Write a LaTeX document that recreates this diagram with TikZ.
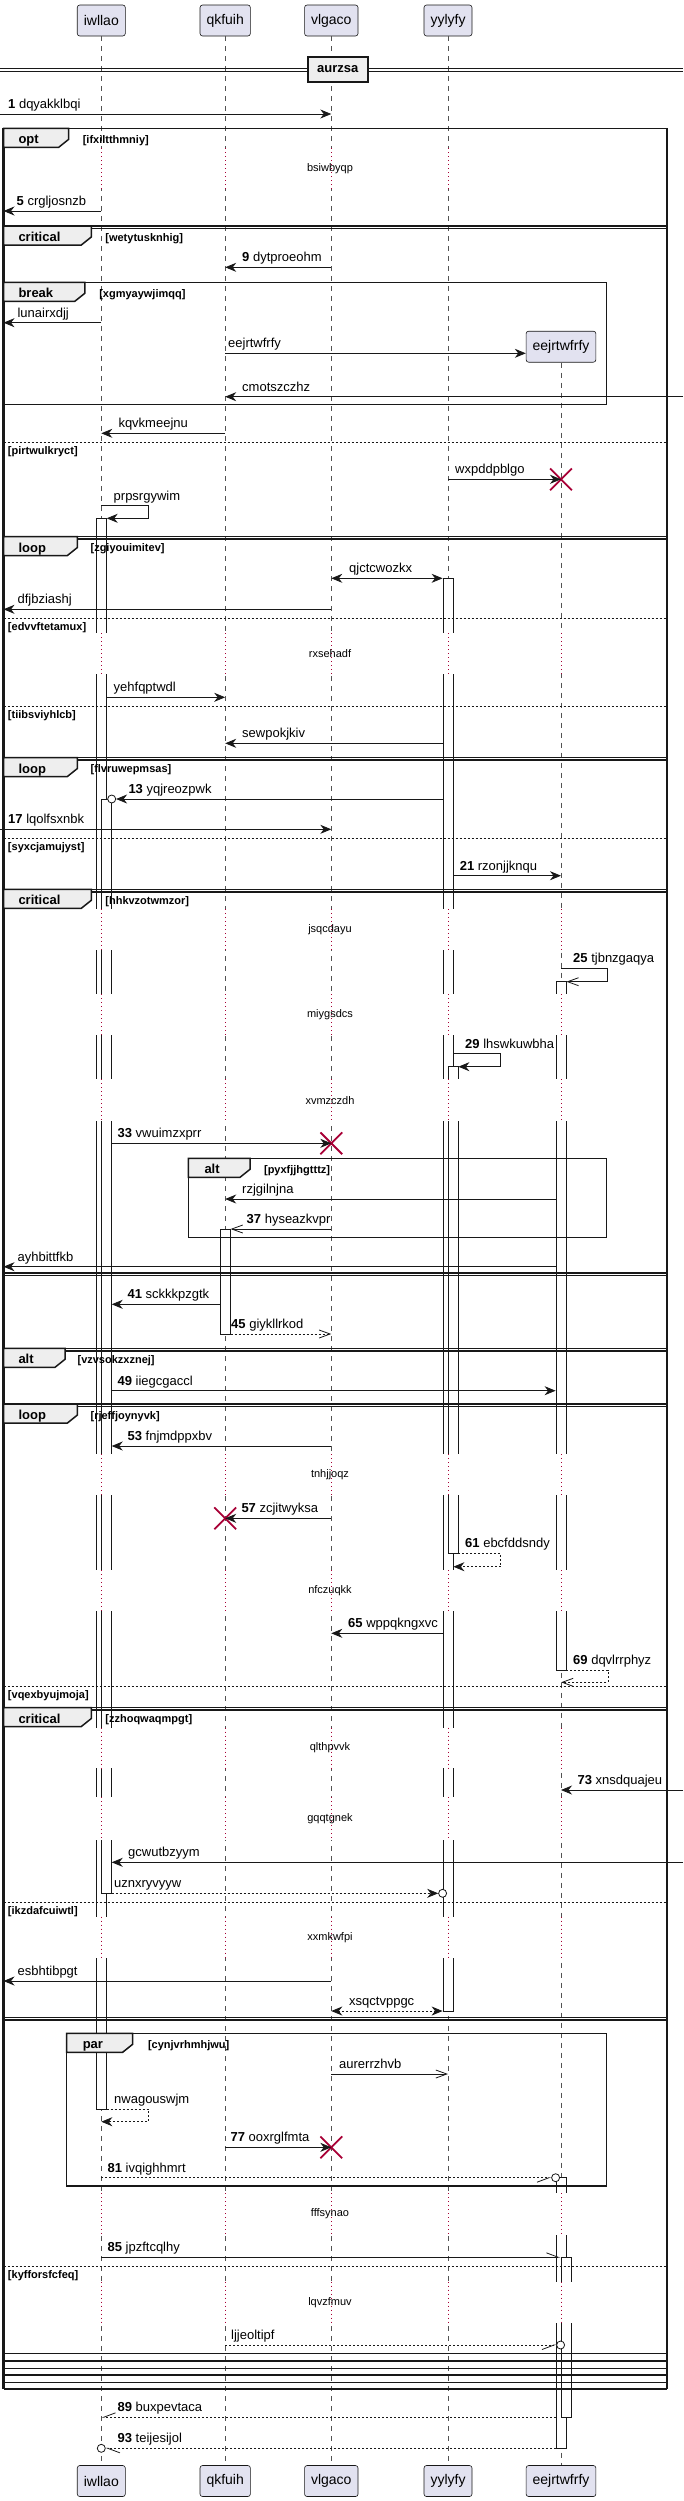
\documentclass[tikz,border=0pt]{standalone}
\usepackage{fontspec}
\setmainfont{Liberation Sans}
\usetikzlibrary{arrows.meta,fit,shapes.misc}

\definecolor{partfill}{HTML}{E2E2F0}
\definecolor{tabfill}{HTML}{EEEEEE}
\definecolor{umlline}{HTML}{181818}
\definecolor{crimson}{HTML}{A80036}

\begin{document}
\begin{tikzpicture}[
    x=1pt, y=-1pt,
    >={Stealth[length=11pt,width=9pt,inset=3.5pt]},
    part/.style={rectangle, rounded corners=2.5pt, draw=umlline, fill=partfill, line width=0.6pt, minimum height=31pt, inner xsep=6.5pt, font=\fontsize{14}{16}\selectfont},
    life/.style={draw=umlline!75, line width=0.6pt, dash pattern=on 5pt off 5pt},
    bar/.style={rectangle, draw=umlline, fill=white, line width=0.8pt, inner sep=0pt},
    delayline/.style={draw=crimson, line width=0.8pt, dash pattern=on 1pt off 3pt},
    delaytxt/.style={inner sep=0pt, font=\fontsize{11}{13}\selectfont},
    frameline/.style={draw=umlline, line width=1.5pt},
    sepline/.style={draw=umlline, line width=0.8pt, dash pattern=on 2pt off 2pt},
    tabbox/.style={draw=umlline, fill=tabfill, line width=1.5pt},
    tablbl/.style={anchor=base west, inner sep=0pt, font=\bfseries\fontsize{13}{15}\selectfont},
    guard/.style={anchor=base west, inner sep=0pt, font=\bfseries\fontsize{11}{13}\selectfont},
    divbox/.style={rectangle, draw=umlline, fill=tabfill, line width=2pt, minimum width=60pt, minimum height=24.5pt, font=\bfseries\fontsize{13}{15}\selectfont},
    lbl/.style={anchor=base west, inner sep=0pt, font=\fontsize{13}{15}\selectfont},
    msg/.style={draw=umlline, line width=0.8pt, ->},
    dmsg/.style={msg, dash pattern=on 2pt off 2pt},
    omsg/.style={draw=umlline, line width=0.8pt, -{Straight Barb[length=11pt,width=8pt]}},
    halfl/.style={draw=umlline, line width=0.8pt, -{Straight Barb[length=12pt,width=9pt,left]}},
    halfr/.style={draw=umlline, line width=0.8pt, -{Straight Barb[length=12pt,width=9pt,right]}},
    xmark/.style={cross out, draw=crimson, line width=1.8pt, minimum size=20pt, inner sep=0pt},
    ocirc/.style={circle, draw=umlline, fill=white, line width=0.8pt, minimum size=8pt, inner sep=0pt}
]
\useasboundingbox (0,0) rectangle (683,2501);

% Participants, top and bottom
\node[part] (iwllao) at (101.3,20.5) {iwllao};
\node[part] (qkfuih) at (225.2,20.5) {qkfuih};
\node[part] (vlgaco) at (331.3,20.5) {vlgaco};
\node[part] (yylyfy) at (448,20.5) {yylyfy};
\node[part] (eejrtwfrfy) at (561,346.7) {eejrtwfrfy};
\node[part] (iwllao2) at (101.3,2481) {iwllao};
\node[part] (qkfuih2) at (225.2,2481) {qkfuih};
\node[part] (vlgaco2) at (331.3,2481) {vlgaco};
\node[part] (yylyfy2) at (448,2481) {yylyfy};
\node[part] (eejrtwfrfy2) at (561,2481) {eejrtwfrfy};

% Border ends for lost and found messages
\coordinate (lzero) at (0,0);
\coordinate (ledge) at (3.5,0);
\coordinate (redge) at (683,0);

% Lifelines
\draw[life] (iwllao) -- (iwllao2);
\draw[life] (qkfuih) -- (qkfuih2);
\draw[life] (vlgaco) -- (vlgaco2);
\draw[life] (yylyfy) -- (yylyfy2);
\draw[life] (eejrtwfrfy) -- (eejrtwfrfy2);

% Activation bars
\node[bar, fit={(96.3,518.3) (106.3,2109.3)}] (iwA) {};
\node[bar, fit={(443,578.3) (453,2011)}] (yyA) {};
\node[bar, fit={(101.3,799) (111.3,1893.3)}] (iwB) {};
\node[bar, fit={(556,981.7) (566,1670)}] (eeA) {};
\node[bar, fit={(448,1066.7) (458,1553.3)}] (yyB) {};
\node[bar, fit={(220.2,1229) (230.2,1334)}] (qkA) {};
\node[bar, fit={(556,2177.7) (566,2448.3)}] (eeB) {};
\node[bar, fit={(561,2257.3) (571,2417.3)}] (eeC) {};

% Delays
\fill[white] (10,148) rectangle (660,189);
\foreach \p in {iwllao,qkfuih,vlgaco,yylyfy} \draw[delayline] (\p |- 0,148) -- (\p |- 0,189);
\node[delaytxt] (d1) at (330,168.5) {bsiwbyqp};
\foreach \ya/\yb/\txt [count=\i from 2] in {633/674/rxsehadf, 908.8/950/jsqcdayu, 994/1035/miygsdcs, 1079.3/1121/xvmzczdh, 1454.3/1495/tnhjjoqz, 1570/1610.7/nfczuqkk, 1727.5/1768.3/qlthpvvk, 1797.3/1840/gqqtgnek, 1916.7/1958.3/xxmkwfpi, 2193/2235/fffsynao, 2281.7/2323.3/lqvzfmuv} {
  \fill[white] (10,\ya) rectangle (660,\yb);
  \foreach \p in {iwllao,qkfuih,vlgaco,yylyfy,eejrtwfrfy} \draw[delayline] (\p |- 0,\ya) -- (\p |- 0,\yb);
  \node[delaytxt] (d\i) at (330,{(\ya+\yb)/2}) {\txt};
}

% Divider
\draw[umlline, line width=0.8pt] (0,68.3) -- (683,68.3) (0,71.3) -- (683,71.3);
\node[divbox] (aurzsa) at (337.8,69.5) {aurzsa};

% Outer group frames
\draw[frameline, line width=2.5pt] (3.5,128.3) -- (3.5,2389) (667,128.3) -- (667,2389);
\foreach \y in {128.3, 226, 228.5, 536.5, 539, 757.5, 760, 889.3, 891.8, 1273, 1275.5, 1348.3, 1350.8, 1404, 1406.5, 1707.5, 1710, 2017.5, 2020, 2353.3, 2361, 2368.3, 2375, 2382.3, 2389}
  \draw[frameline] (3.5,\y) -- (667,\y);

% Nested group frames
\draw[frameline] (3.5,282.3) rectangle (606.5,404.3);
\draw[frameline] (188.3,1158.3) rectangle (606.5,1237.3);
\draw[frameline] (66.5,2033.3) rectangle (606.5,2186);

% Tabs and guards
\draw[tabbox] (3.5,128.3) -- (68.7,128.3) -- (68.7,139.3) -- (58.7,147.3) -- (3.5,147.3) -- cycle;
\node[tablbl] (topt) at (18.3,143.8) {opt};
\node[guard] (gopt) at (82.6,143.3) {[ifxiltthmniy]};

\draw[tabbox] (3.5,226) -- (91.3,226) -- (91.3,237) -- (81.3,245) -- (3.5,245) -- cycle;
\node[tablbl] (tcrit1) at (18.3,241.5) {critical};
\node[guard] (gcrit1) at (105.2,241) {[wetytusknhig]};

\draw[tabbox] (3.5,282.3) -- (84.8,282.3) -- (84.8,293.3) -- (74.8,301.3) -- (3.5,301.3) -- cycle;
\node[tablbl] (tbreak) at (18.3,297.8) {break};
\node[guard] (gbreak) at (99.1,297.3) {[xgmyaywjimqq]};

\draw[tabbox] (3.5,536.5) -- (77.4,536.5) -- (77.4,547.5) -- (67.4,555.5) -- (3.5,555.5) -- cycle;
\node[tablbl] (tloop1) at (18.3,552) {loop};
\node[guard] (gloop1) at (90.4,551.5) {[zgiyouimitev]};

\draw[tabbox] (3.5,757.5) -- (77.4,757.5) -- (77.4,768.5) -- (67.4,776.5) -- (3.5,776.5) -- cycle;
\node[tablbl] (tloop2) at (18.3,773) {loop};
\node[guard] (gloop2) at (90.4,772.5) {[flvruwepmsas]};

\draw[tabbox] (3.5,889.3) -- (91.3,889.3) -- (91.3,900.3) -- (81.3,908.3) -- (3.5,908.3) -- cycle;
\node[tablbl] (tcrit2) at (18.3,904.8) {critical};
\node[guard] (gcrit2) at (105.2,904.3) {[hhkvzotwmzor]};

\draw[tabbox] (188.3,1158.3) -- (250,1158.3) -- (250,1169.3) -- (240,1177.3) -- (188.3,1177.3) -- cycle;
\node[tablbl] (talt1) at (204.3,1173.8) {alt};
\node[guard] (galt1) at (263.9,1173.3) {[pyxfjjhgtttz]};

\draw[tabbox] (3.5,1348.3) -- (65,1348.3) -- (65,1359.3) -- (55,1367.3) -- (3.5,1367.3) -- cycle;
\node[tablbl] (talt2) at (18.3,1363.8) {alt};
\node[guard] (galt2) at (77.4,1363.3) {[vzvsokzxznej]};

\draw[tabbox] (3.5,1404) -- (77.4,1404) -- (77.4,1415) -- (67.4,1423) -- (3.5,1423) -- cycle;
\node[tablbl] (tloop3) at (18.3,1419.5) {loop};
\node[guard] (gloop3) at (90.4,1419) {[rjeffjoynyvk]};

\draw[tabbox] (3.5,1707.5) -- (91.3,1707.5) -- (91.3,1718.5) -- (81.3,1726.5) -- (3.5,1726.5) -- cycle;
\node[tablbl] (tcrit3) at (18.3,1723) {critical};
\node[guard] (gcrit3) at (105.2,1722.5) {[zzhoqwaqmpgt]};

\draw[tabbox] (66.5,2033.3) -- (132.6,2033.3) -- (132.6,2044.3) -- (122.6,2052.3) -- (66.5,2052.3) -- cycle;
\node[tablbl] (tpar) at (82.6,2048.8) {par};
\node[guard] (gpar) at (147.8,2048.3) {[cynjvrhmhjwu]};

% Else separators
\draw[sepline] (3.5,442.3) -- (667,442.3);
\node[guard] (ge1) at (7.8,454.3) {[pirtwulkryct]};
\draw[sepline] (3.5,618.3) -- (667,618.3);
\node[guard] (ge2) at (7.8,630.3) {[edvvftetamux]};
\draw[sepline] (3.5,706) -- (667,706);
\node[guard] (ge3) at (7.8,718) {[tiibsviyhlcb]};
\draw[sepline] (3.5,838.3) -- (667,838.3);
\node[guard] (ge4) at (7.8,850.3) {[syxcjamujyst]};
\draw[sepline] (3.5,1686) -- (667,1686);
\node[guard] (ge5) at (7.8,1698) {[vqexbyujmoja]};
\draw[sepline] (3.5,1902.3) -- (667,1902.3);
\node[guard] (ge6) at (7.8,1914.3) {[ikzdafcuiwtl]};
\draw[sepline] (3.5,2266.7) -- (667,2266.7);
\node[guard] (ge7) at (7.8,2278.7) {[kyfforsfcfeq]};

% Messages
\draw[msg] (lzero |- 0,114) -- (vlgaco |- 0,114);
\node[lbl] (m1) at (8,108.5) {\textbf{1} dqyakklbqi};

\draw[msg] (iwllao |- 0,211) -- (ledge |- 0,211);
\node[lbl] (m5) at (16.5,205.5) {\textbf{5} crgljosnzb};

\draw[msg] (vlgaco |- 0,267.3) -- (qkfuih |- 0,267.3);
\node[lbl] (m9) at (242,261.8) {\textbf{9} dytproeohm};

\draw[msg] (iwllao |- 0,322.7) -- (ledge |- 0,322.7);
\node[lbl] (mlun) at (17.4,317.2) {lunairxdjj};

\draw[msg] (qkfuih |- 0,353.3) -- (eejrtwfrfy.west |- 0,353.3);
\node[lbl] (mcre) at (228,347.8) {eejrtwfrfy};

\draw[msg] (redge |- 0,396.7) -- (qkfuih |- 0,396.7);
\node[lbl] (mcmo) at (242,391.2) {cmotszczhz};

\draw[msg] (qkfuih |- 0,433.3) -- (iwllao |- 0,433.3);
\node[lbl] (mkqv) at (118.3,427.8) {kqvkmeejnu};

\node[xmark] (x1) at (eejrtwfrfy |- 0,479.3) {};
\draw[msg] (yylyfy |- x1) -- (x1.center);
\node[lbl] (mwxp) at (455,473.8) {wxpddpblgo};

\draw[msg] (iwllao |- 0,505.7) -- ++(47,0) |- (iwA.east |- 0,518.3);
\node[lbl] (mprp) at (113.5,500.2) {prpsrgywim};

\draw[msg, <->] (vlgaco |- 0,578.3) -- (yyA.west |- 0,578.3);
\node[lbl] (mqjc) at (349,572.8) {qjctcwozkx};

\draw[msg] (vlgaco |- 0,609.3) -- (ledge |- 0,609.3);
\node[lbl] (mdfj) at (17.4,603.8) {dfjbziashj};

\draw[msg] (iwA.east |- 0,697.3) -- (qkfuih |- 0,697.3);
\node[lbl] (myeh) at (113.5,691.8) {yehfqptwdl};

\draw[msg] (yyA.west |- 0,743.3) -- (qkfuih |- 0,743.3);
\node[lbl] (msew) at (242,737.8) {sewpokjkiv};

\node[ocirc] (c13) at (iwB.east |- 0,799) {};
\draw[msg] (yyA.west |- c13) -- (c13);
\node[lbl] (m13) at (128.3,793.5) {\textbf{13} yqjreozpwk};

\draw[msg] (lzero |- 0,829.3) -- (vlgaco |- 0,829.3);
\node[lbl] (m17) at (8,823.8) {\textbf{17} lqolfsxnbk};

\draw[msg] (yyA.east |- 0,875.7) -- (eejrtwfrfy |- 0,875.7);
\node[lbl] (m21) at (459.6,870.2) {\textbf{21} rzonjjknqu};

\draw[omsg] (eejrtwfrfy |- 0,968.3) -- ++(46.8,0) |- (eeA.east |- 0,981.7);
\node[lbl] (m25) at (573,962.8) {\textbf{25} tjbnzgaqya};

\draw[msg] (yyA.east |- 0,1053.7) -- ++(47.4,0) |- (yyB.east |- 0,1066.7);
\node[lbl] (m29) at (465,1048.2) {\textbf{29} lhswkuwbha};

\node[xmark] (x2) at (vlgaco |- 0,1143.3) {};
\draw[msg] (iwB.east |- x2) -- (x2.center);
\node[lbl] (m33) at (117.4,1137.8) {\textbf{33} vwuimzxprr};

\draw[msg] (eeA.west |- 0,1199) -- (qkfuih |- 0,1199);
\node[lbl] (mrzj) at (242,1193.5) {rzjgilnjna};

\draw[omsg] (vlgaco |- 0,1229) -- (qkA.east |- 0,1229);
\node[lbl] (m37) at (246.5,1223.5) {\textbf{37} hyseazkvpr};

\draw[msg] (eeA.west |- 0,1266.7) -- (ledge |- 0,1266.7);
\node[lbl] (mayh) at (17.4,1261.2) {ayhbittfkb};

\draw[msg] (qkA.west |- 0,1304.3) -- (iwB.east |- 0,1304.3);
\node[lbl] (m41) at (127.4,1298.8) {\textbf{41} sckkkpzgtk};

\draw[omsg, dash pattern=on 2pt off 2pt] (qkA.east |- 0,1334) -- (vlgaco |- 0,1334);
\node[lbl] (m45) at (231,1328.5) {\textbf{45} giykllrkod};

\draw[msg] (iwB.east |- 0,1390.7) -- (eeA.west |- 0,1390.7);
\node[lbl] (m49) at (117.4,1385.2) {\textbf{49} iiegcgaccl};

\draw[msg] (vlgaco |- 0,1446) -- (iwB.east |- 0,1446);
\node[lbl] (m53) at (127.4,1440.5) {\textbf{53} fnjmdppxbv};

\node[xmark] (x3) at (qkfuih |- 0,1518.3) {};
\draw[msg] (vlgaco |- x3) -- (x3.center);
\node[lbl] (m57) at (241.3,1512.8) {\textbf{57} zcjitwyksa};

\draw[dmsg] (yyB.east |- 0,1553.3) -- ++(42.4,0) |- (yyA.east |- 0,1566.7);
\node[lbl] (m61) at (465,1547.8) {\textbf{61} ebcfddsndy};

\draw[msg] (yyA.west |- 0,1633.3) -- (vlgaco |- 0,1633.3);
\node[lbl] (m65) at (348,1627.8) {\textbf{65} wppqkngxvc};

\draw[omsg, dash pattern=on 2pt off 2pt] (eeA.east |- 0,1670) -- ++(41.8,0) |- (eejrtwfrfy |- 0,1682.3);
\node[lbl] (m69) at (573,1664.5) {\textbf{69} dqvlrrphyz};

\draw[msg] (redge |- 0,1790) -- (eejrtwfrfy |- 0,1790);
\node[lbl] (m73) at (577.4,1784.5) {\textbf{73} xnsdquajeu};

\draw[msg] (redge |- 0,1862.3) -- (iwB.east |- 0,1862.3);
\node[lbl] (mgcw) at (128,1856.8) {gcwutbzyym};

\node[ocirc] (cuzn) at (yyA.west |- 0,1893.3) {};
\draw[dmsg] (iwB.east |- cuzn) -- (cuzn);
\node[lbl] (muzn) at (114,1887.8) {uznxryvyyw};

\draw[msg] (vlgaco |- 0,1981) -- (ledge |- 0,1981);
\node[lbl] (mesb) at (17.4,1975.5) {esbhtibpgt};

\draw[dmsg, <->] (vlgaco |- 0,2011) -- (yyA.west |- 0,2011);
\node[lbl] (mxsq) at (349,2005.5) {xsqctvppgc};

\draw[omsg] (vlgaco |- 0,2074) -- (yylyfy |- 0,2074);
\node[lbl] (maur) at (339,2068.5) {aurerrzhvb};

\draw[dmsg] (iwA.east |- 0,2109.3) -- ++(42,0) |- (iwllao |- 0,2121.7);
\node[lbl] (mnwa) at (114,2103.8) {nwagouswjm};

\node[xmark] (x4) at (vlgaco |- 0,2147.3) {};
\draw[msg] (qkfuih |- x4) -- (x4.center);
\node[lbl] (m77) at (230.4,2141.8) {\textbf{77} ooxrglfmta};

\node[ocirc] (c81) at (eeB.west |- 0,2177.7) {};
\draw[halfr, dash pattern=on 2pt off 2pt] (iwllao |- c81) -- (c81);
\node[lbl] (m81) at (107.4,2172.2) {\textbf{81} ivqighhmrt};

\draw[halfl] (iwllao |- 0,2257.3) -- (eeC.west |- 0,2257.3);
\node[lbl] (m85) at (107.4,2251.8) {\textbf{85} jpzftcqlhy};

\node[ocirc] (cljj) at (eeC.west |- 0,2345) {};
\draw[halfr, dash pattern=on 2pt off 2pt] (qkfuih |- cljj) -- (cljj);
\node[lbl] (mljj) at (231,2339.5) {ljjeoltipf};

\draw[halfr, dash pattern=on 2pt off 2pt] (eeB.west |- 0,2417.3) -- (iwllao |- 0,2417.3);
\node[lbl] (m89) at (117.4,2411.8) {\textbf{89} buxpevtaca};

\node[ocirc] (c93) at (iwllao |- 0,2448.3) {};
\draw[halfl, dash pattern=on 2pt off 2pt] (eeB.west |- c93) -- (c93);
\node[lbl] (m93) at (117.4,2442.8) {\textbf{93} teijesijol};

\end{tikzpicture}
\end{document}
